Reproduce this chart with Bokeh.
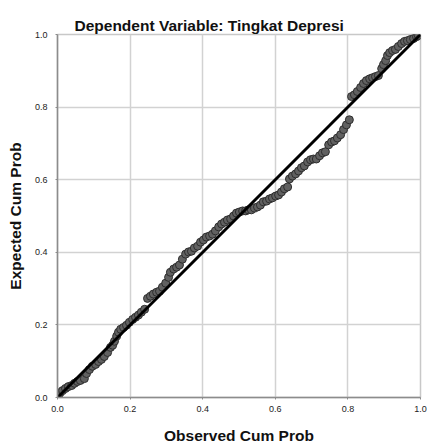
from bokeh.plotting import figure
from bokeh.models import Range1d, FixedTicker, NumeralTickFormatter
from bokeh.embed import file_html
from bokeh.resources import INLINE

# Observed cumulative probability (x) and expected cumulative probability (y)
observed = [
    0.003, 0.008, 0.014, 0.022, 0.030, 0.039, 0.047, 0.055, 0.063, 0.074,
    0.080, 0.088, 0.096, 0.105, 0.113, 0.121, 0.129, 0.138, 0.146, 0.152,
    0.157, 0.163, 0.168, 0.174,
    0.182, 0.190, 0.198, 0.207, 0.215, 0.223, 0.231, 0.240, 0.248, 0.256,
    0.264, 0.273, 0.281, 0.289, 0.298, 0.306, 0.311, 0.320, 0.328, 0.336,
    0.344, 0.353, 0.361,
    0.369, 0.377, 0.386, 0.394, 0.402, 0.410, 0.419, 0.427, 0.435, 0.444,
    0.452, 0.460, 0.468, 0.477, 0.485, 0.493, 0.501, 0.510, 0.518, 0.526,
    0.534, 0.543, 0.551,
    0.559, 0.567, 0.576, 0.584, 0.592, 0.601, 0.609, 0.617, 0.625, 0.634,
    0.639, 0.647, 0.656, 0.664, 0.672, 0.680, 0.689, 0.697, 0.705, 0.713,
    0.722, 0.730, 0.738, 0.747, 0.755, 0.763, 0.771, 0.780, 0.788, 0.796,
    0.804,
    0.810, 0.818, 0.826, 0.835, 0.843, 0.851, 0.860, 0.868, 0.876, 0.884,
    0.893, 0.898, 0.904, 0.909, 0.915, 0.923, 0.931, 0.939, 0.948, 0.956,
    0.964, 0.972, 0.981, 0.989, 0.994,
]
expected = [
    0.006, 0.014, 0.019, 0.025, 0.030, 0.033, 0.039, 0.044, 0.047, 0.052,
    0.066, 0.077, 0.086, 0.091, 0.099, 0.105, 0.113, 0.124, 0.138, 0.144,
    0.155, 0.169, 0.180, 0.188,
    0.193, 0.199, 0.207, 0.215, 0.221, 0.227, 0.235, 0.243, 0.273, 0.279,
    0.285, 0.290, 0.293, 0.304, 0.315, 0.331, 0.345, 0.354, 0.359, 0.365,
    0.381, 0.395, 0.401,
    0.403, 0.412, 0.417, 0.428, 0.434, 0.442, 0.445, 0.450, 0.459, 0.470,
    0.478, 0.483, 0.489, 0.492, 0.500, 0.508, 0.511, 0.514, 0.514, 0.517,
    0.517, 0.522, 0.525,
    0.530, 0.539, 0.541, 0.547, 0.550, 0.555, 0.558, 0.566, 0.575, 0.580,
    0.602, 0.610, 0.616, 0.624, 0.633, 0.638, 0.649, 0.655, 0.657, 0.657,
    0.666, 0.674, 0.677, 0.696, 0.704, 0.707, 0.715, 0.724, 0.738, 0.751,
    0.765,
    0.829, 0.834, 0.843, 0.854, 0.865, 0.873, 0.878, 0.881, 0.884, 0.887,
    0.906, 0.917, 0.928, 0.942, 0.950, 0.956, 0.959, 0.967, 0.975, 0.981,
    0.983, 0.986, 0.989, 0.994, 0.997,
]
ref_x = [0.0, 1.0]
ref_y = [0.0, 1.0]
ticks = [0.0, 0.2, 0.4, 0.6, 0.8, 1.0]

FONT = "Liberation Sans"

p = figure(
    frame_width=363, frame_height=363,
    x_range=Range1d(0, 1), y_range=Range1d(0, 1),
    output_backend="svg", toolbar_location=None,
    min_border_left=57, min_border_top=34, min_border_right=8, min_border_bottom=44,
    title="Dependent Variable: Tingkat Depresi",
)
p.background_fill_color = "white"
p.border_fill_color = "white"
p.outline_line_color = "#c8c8c8"
p.outline_line_width = 1.5

p.title.text_font = FONT
p.title.text_font_size = "15.5px"
p.title.text_font_style = "bold"
p.title.text_color = "#111111"
p.title.align = "left"
p.title.offset = 17
p.title.standoff = 2

for ax in (p.xaxis[0], p.yaxis[0]):
    ax.ticker = FixedTicker(ticks=ticks)
    ax.formatter = NumeralTickFormatter(format="0.0")
    ax.minor_tick_line_color = None
    ax.major_tick_out = 2
    ax.major_tick_in = 0
    ax.major_tick_line_color = "#8c8c8c"
    ax.axis_line_color = "#8c8c8c"
    ax.axis_line_width = 1.5
    ax.major_label_text_font = FONT
    ax.major_label_text_font_size = "9px"
    ax.major_label_text_color = "#222222"
    ax.axis_label_text_font = FONT
    ax.axis_label_text_font_size = "15.5px"
    ax.axis_label_text_font_style = "bold"
    ax.axis_label_text_color = "#111111"

p.xaxis.axis_label = "Observed Cum Prob"
p.yaxis.axis_label = "Expected Cum Prob"
p.xaxis.major_label_standoff = 6
p.yaxis.major_label_standoff = 8
p.xaxis.axis_label_standoff = 12
p.yaxis.axis_label_standoff = 8

p.xgrid.ticker = FixedTicker(ticks=ticks)
p.ygrid.ticker = FixedTicker(ticks=ticks)
p.xgrid.grid_line_color = "#d2d2d2"
p.ygrid.grid_line_color = "#d2d2d2"
p.xgrid.grid_line_width = 1.5
p.ygrid.grid_line_width = 1.5

p.scatter(observed, expected, size=8, marker="circle",
          fill_color="#616161", line_color="#2e2e2e", line_width=1)
p.line(ref_x, ref_y, line_color="black", line_width=3)

open("out.html", "w").write(file_html(p, INLINE))
